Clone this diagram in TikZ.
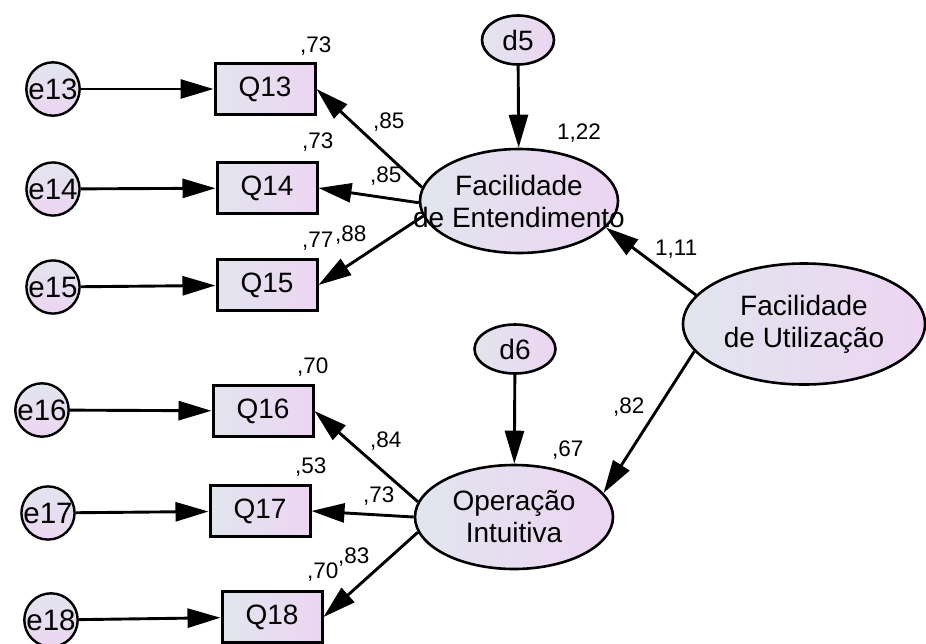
\documentclass[tikz,border=0pt]{standalone}
\usepackage{fontspec}
\setmainfont{Liberation Sans}
\usetikzlibrary{arrows.meta,shapes.geometric}
\definecolor{gl}{RGB}{226,229,238}
\definecolor{gr}{RGB}{236,213,242}
\tikzset{
 obsbox/.style={draw, line width=3pt, rectangle, minimum width=100pt, minimum height=51pt, inner sep=0pt, left color=gl, right color=gr, font=\fontsize{28}{32}\selectfont},
 errc/.style={draw, line width=2.4pt, circle, minimum size=52pt, inner sep=0pt, top color=gl, bottom color=gr, font=\fontsize{29.5}{32}\selectfont},
 latent/.style={draw, line width=2.6pt, ellipse, inner sep=0pt, left color=gl, right color=gr},
 ltext/.style={font=\fontsize{28}{32}\selectfont, align=center},
 coef/.style={font=\fontsize{22.5}{24}\selectfont, anchor=base west, inner sep=0pt},
 sempath/.style={line width=2.9pt, -{Triangle[length=33pt,width=19pt]}},
}
\begin{document}
\begin{tikzpicture}[x=1pt,y=-1pt]
\useasboundingbox (0,0) rectangle (926,643);
% observed
\node[obsbox] (Q13) at (265,89) {Q13};
\node[obsbox] (Q14) at (267,188) {Q14};
\node[obsbox] (Q15) at (267,285) {Q15};
\node[obsbox] (Q16) at (263,411) {Q16};
\node[obsbox] (Q17) at (260,511) {Q17};
\node[obsbox] (Q18) at (272,617) {Q18};
% errors
\node[errc] (e13) at (53,89) {e13};
\node[errc] (e14) at (53,189) {e14};
\node[errc] (e15) at (53,287) {e15};
\node[errc] (e16) at (42,410) {e16};
\node[errc] (e17) at (48,513) {e17};
\node[errc] (e18) at (51,620) {e18};
% latents
\node[latent, minimum width=198pt, minimum height=104pt, label={[ltext]center:Facilidade\\de Entendimento}] (FE) at (519,201) {};
\node[latent, minimum width=198pt, minimum height=104pt, label={[ltext]center:Operação\\Intuitiva}] (OI) at (514,517) {};
\node[latent, minimum width=242pt, minimum height=121pt, label={[ltext]center:Facilidade\\de Utilização}] (FU) at (804,324) {};
\node[latent, minimum width=72pt, minimum height=49pt, font=\fontsize{28}{32}\selectfont] (d5) at (518,40) {d5};
\node[latent, minimum width=81pt, minimum height=49pt, font=\fontsize{28}{32}\selectfont] (d6) at (515,349) {d6};
% paths
\draw[sempath] (e13) -- (Q13);
\draw[sempath] (e14) -- (Q14);
\draw[sempath] (e15) -- (Q15);
\draw[sempath] (e16) -- (Q16);
\draw[sempath] (e17) -- (Q17);
\draw[sempath] (e18) -- (Q18);
\draw[sempath] (FE.172) -- (Q13.east);
\draw[sempath] (FE.181) -- (Q14.east);
\draw[sempath] (FE.189) -- (Q15.east);
\draw[sempath] (OI.171) -- (Q16.east);
\draw[sempath] (OI.180) -- (Q17.east);
\draw[sempath] (OI.189) -- (Q18.east);
\draw[sempath] (d5) -- (FE);
\draw[sempath] (d6) -- (OI);
\draw[sempath] (FU.165) -- (FE.343);
\draw[sempath] (FU.194) -- (OI.15);
% coefficients
\node[coef] (r13) at (300,52) {,73};
\node[coef] (l13) at (373,128) {,85};
\node[coef] (r14) at (302,148) {,73};
\node[coef] (l14) at (370,182) {,85};
\node[coef] (r15) at (302,247) {,77};
\node[coef] (l15) at (335,241) {,88};
\node[coef] (rFE) at (557,139) {1,22};
\node[coef] (bFE) at (655,255) {1,11};
\node[coef] (r16) at (297,373) {,70};
\node[coef] (l16) at (370,447) {,84};
\node[coef] (r17) at (295,473) {,53};
\node[coef] (l17) at (363,502) {,73};
\node[coef] (r18) at (307,578) {,70};
\node[coef] (l18) at (338,563) {,83};
\node[coef] (bOI) at (613,413) {,82};
\node[coef] (rOI) at (552,456) {,67};
\end{tikzpicture}
\end{document}
